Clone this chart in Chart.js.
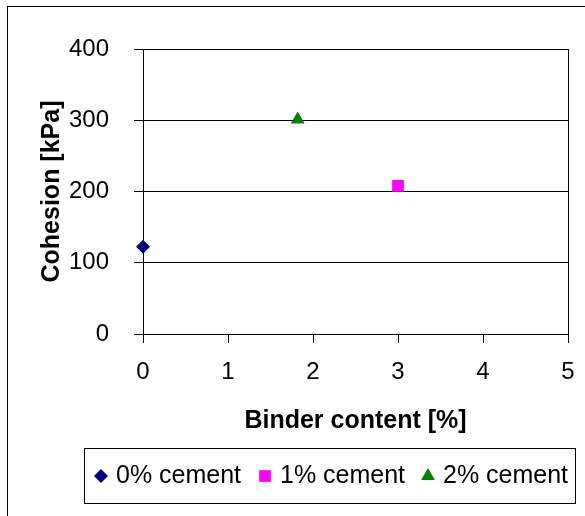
<!DOCTYPE html>
<html>
<head>
<meta charset="utf-8">
<title>Cohesion vs binder content</title>
<script src="https://cdn.jsdelivr.net/npm/chart.js@4"></script>
<style>
    body { margin: 0; background: #fff; }
    #wrap { width: 585px; height: 516px; }
</style>
</head>
<body>
<div id="wrap">
    <canvas id="myChart" width="585" height="516"></canvas>
</div>
<script>
/* DATOS */
const seriesLabels = ['0% cement', '1% cement', '2% cement'];
const binderContent = [0, 3.0, 1.82];      /* eje x [%] */
const cohesion = [122.5, 208, 301];        /* eje y [kPa] */
const pointStyles = ['rectRot', 'rect', 'triangle'];
const pointColors = ['#000080', '#FF00FF', '#008000'];
const pointSizes = [7, 8.3, 8];
const xTicks = [0, 1, 2, 3, 4, 5];
const yTicks = [0, 100, 200, 300, 400];

const fuente = "'Liberation Sans', Arial, sans-serif";

/* un dataset por serie, un punto cada uno */
const datasets = seriesLabels.map((label, i) => ({
    label: label,
    data: [{ x: binderContent[i], y: cohesion[i] }],
    pointStyle: pointStyles[i],
    backgroundColor: pointColors[i],
    borderColor: pointColors[i],
    borderWidth: 0,
    pointRadius: pointSizes[i],
    pointHoverRadius: pointSizes[i],
    clip: false
}));

/* marco exterior, caja del area de trazado y leyenda con borde */
const marcos = {
    id: 'marcos',
    beforeDraw(chart) {
        const ctx = chart.ctx;
        ctx.save();
        ctx.fillStyle = '#fff';
        ctx.fillRect(0, 0, chart.width, chart.height);
        ctx.strokeStyle = '#000';
        ctx.lineWidth = 1;
        ctx.strokeRect(7.5, 6.5, 600, 600);
        ctx.restore();
    },
    beforeDatasetsDraw(chart) {
        const ctx = chart.ctx;
        const a = chart.chartArea;
        ctx.save();
        ctx.strokeStyle = '#000';
        ctx.lineWidth = 1;
        ctx.strokeRect(Math.round(a.left) + 0.5, Math.round(a.top) + 0.5,
            Math.round(a.right - a.left), Math.round(a.bottom - a.top));
        ctx.restore();
    },
    afterDraw(chart) {
        const ctx = chart.ctx;
        ctx.save();
        ctx.strokeStyle = '#000';
        ctx.lineWidth = 1;

        /* leyenda */
        ctx.strokeRect(84.5, 448.5, 491, 55);
        const itemX = [101, 265, 428];
        ctx.font = '25px ' + fuente;
        ctx.textBaseline = 'middle';
        chart.data.datasets.forEach((ds, i) => {
            ctx.fillStyle = ds.backgroundColor;
            ctx.strokeStyle = ds.borderColor;
            Chart.helpers.drawPoint(ctx, {
                pointStyle: ds.pointStyle,
                radius: ds.pointRadius,
                borderWidth: 0,
                rotation: 0
            }, itemX[i], 476);
            ctx.fillStyle = '#000';
            ctx.fillText(ds.label, itemX[i] + 15, 476);
        });
        ctx.restore();
    }
};

const ctx = document.getElementById('myChart');

const config = {
    type: 'scatter',
    data: { datasets: datasets },
    options: {
        responsive: false,
        devicePixelRatio: 1,
        animation: false,
        layout: {
            autoPadding: false,
            padding: { top: 49, right: 17, bottom: 0, left: 0 }
        },
        plugins: {
            legend: { display: false },
            tooltip: { enabled: false }
        },
        scales: {
            x: {
                type: 'linear',
                min: 0,
                max: 5,
                afterBuildTicks: (scale) => { scale.ticks = xTicks.map(v => ({ value: v })); },
                afterFit: (scale) => {
                    scale.height = 182;
                    scale.paddingLeft = 0;
                    scale.paddingRight = 0;
                },
                ticks: {
                    color: '#000',
                    font: { family: fuente, size: 24 },
                    padding: 15,
                    maxRotation: 0
                },
                grid: {
                    drawOnChartArea: false,
                    drawTicks: true,
                    tickLength: 9,
                    color: '#000'
                },
                border: { display: true, color: '#000' },
                title: {
                    display: true,
                    text: 'Binder content [%]',
                    color: '#000',
                    font: { family: fuente, size: 25, weight: 'bold' },
                    padding: { top: 0, bottom: 80 }
                }
            },
            y: {
                type: 'linear',
                min: 0,
                max: 400,
                afterBuildTicks: (scale) => { scale.ticks = yTicks.map(v => ({ value: v })); },
                afterFit: (scale) => {
                    scale.width = 143;
                    scale.paddingTop = 0;
                    scale.paddingBottom = 0;
                },
                ticks: {
                    color: '#000',
                    font: { family: fuente, size: 24 },
                    padding: 25
                },
                grid: {
                    color: '#000',
                    tickLength: 9
                },
                border: { display: true, color: '#000' },
                title: {
                    display: true,
                    text: 'Cohesion [kPa]',
                    color: '#000',
                    font: { family: fuente, size: 25, weight: 'bold' },
                    padding: { top: 37, bottom: 0 }
                }
            }
        }
    },
    plugins: [marcos]
};

const chart = new Chart(ctx, config);
</script>
</body>
</html>
